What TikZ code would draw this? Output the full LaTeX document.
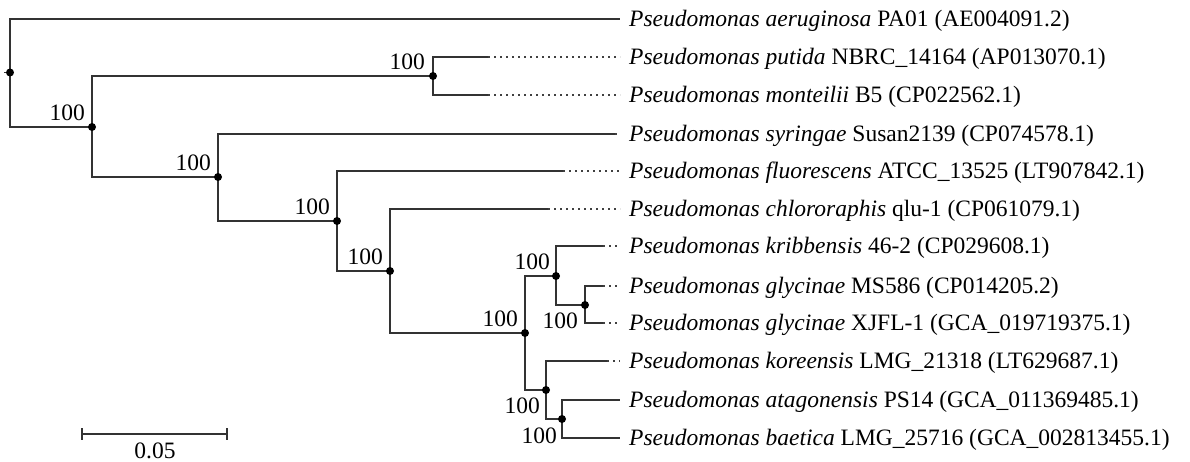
\documentclass[tikz,border=0pt]{standalone}
\usepackage{fontspec}
\setmainfont{Liberation Serif}
\begin{document}
\begin{tikzpicture}[x=1pt,y=-1pt,
  br/.style={line width=1.7pt,draw=black!80},
  dotline/.style={line width=1.6pt,draw=black!75,dash pattern=on 1.6pt off 4.4pt},
  nd/.style={circle,fill=black,inner sep=0pt,minimum size=8pt},
  tip/.style={inner sep=0pt,anchor=base west,font=\fontsize{23.5}{26}\selectfont},
  bsa/.style={inner sep=0pt,anchor=south east,font=\fontsize{23.5}{26}\selectfont},
  bsb/.style={inner sep=0pt,anchor=north east,font=\fontsize{23.5}{26}\selectfont},
  sc/.style={inner sep=0pt,anchor=north,font=\fontsize{23.5}{26}\selectfont}]
\useasboundingbox (0,0) rectangle (1190,462);
% internal nodes
\coordinate (r) at (10,72.5);
\coordinate (n1) at (92,127);
\coordinate (n2) at (433,76);
\coordinate (n3) at (218,177);
\coordinate (n4) at (337,221);
\coordinate (n5) at (390,271);
\coordinate (n6) at (525,333);
\coordinate (n7) at (556,276);
\coordinate (n8) at (585,305);
\coordinate (n9) at (546,390);
\coordinate (n10) at (562,419);
\coordinate (rt) at (4,72.5);
% solid ends
\coordinate (s1) at (620,19);
\coordinate (s2) at (488,57);
\coordinate (s3) at (488,95);
\coordinate (s4) at (615,134);
\coordinate (s5) at (563,171);
\coordinate (s6) at (548,209);
\coordinate (s7) at (603,246);
\coordinate (s8) at (603,286);
\coordinate (s9) at (603,323);
\coordinate (s10) at (607,361);
\coordinate (s11) at (620,400);
\coordinate (s12) at (620,438);
% dotted ends
\foreach \i/\y in {2/57,3/95,4/134,5/171,6/209,7/246,8/286,9/323,10/361}
  \coordinate (d\i) at (620,\y);
% leaf labels
\node[tip] (L1) at (629,26.5) {\textit{Pseudomonas aeruginosa} PA01 (AE004091.2)};
\node[tip] (L2) at (629,64.5) {\textit{Pseudomonas putida} NBRC\_14164 (AP013070.1)};
\node[tip] (L3) at (629,102.5) {\textit{Pseudomonas monteilii} B5 (CP022562.1)};
\node[tip] (L4) at (629,141.5) {\textit{Pseudomonas syringae} Susan2139 (CP074578.1)};
\node[tip] (L5) at (629,178.5) {\textit{Pseudomonas fluorescens} ATCC\_13525 (LT907842.1)};
\node[tip] (L6) at (629,216.5) {\textit{Pseudomonas chlororaphis} qlu-1 (CP061079.1)};
\node[tip] (L7) at (629,253.5) {\textit{Pseudomonas kribbensis} 46-2 (CP029608.1)};
\node[tip] (L8) at (629,293.5) {\textit{Pseudomonas glycinae} MS586 (CP014205.2)};
\node[tip] (L9) at (629,330.5) {\textit{Pseudomonas glycinae} XJFL-1 (GCA\_019719375.1)};
\node[tip] (L10) at (629,368.5) {\textit{Pseudomonas koreensis} LMG\_21318 (LT629687.1)};
\node[tip] (L11) at (629,407.5) {\textit{Pseudomonas atagonensis} PS14 (GCA\_011369485.1)};
\node[tip] (L12) at (629,445.5) {\textit{Pseudomonas baetica} LMG\_25716 (GCA\_002813455.1)};
% branches
\draw[br] (rt) -- (r);
\draw[br] (r) |- (s1);
\draw[br] (r) |- (n1);
\draw[br] (n1) |- (n2);
\draw[br] (n1) |- (n3);
\draw[br] (n2) |- (s2);
\draw[br] (n2) |- (s3);
\draw[br] (n3) |- (s4);
\draw[br] (n3) |- (n4);
\draw[br] (n4) |- (s5);
\draw[br] (n4) |- (n5);
\draw[br] (n5) |- (s6);
\draw[br] (n5) |- (n6);
\draw[br] (n6) |- (n7);
\draw[br] (n6) |- (n9);
\draw[br] (n7) |- (s7);
\draw[br] (n7) |- (n8);
\draw[br] (n8) |- (s8);
\draw[br] (n8) |- (s9);
\draw[br] (n9) |- (s10);
\draw[br] (n9) |- (n10);
\draw[br] (n10) |- (s11);
\draw[br] (n10) |- (s12);
% dotted extensions
\foreach \i in {2,...,10} \draw[dotline] (s\i) -- (d\i);
% node dots
\foreach \n in {r,n1,n2,n3,n4,n5,n6,n7,n8,n9,n10} \node[nd] at (\n) {};
% bootstrap labels
\node[bsa] (b1) at ([shift={(-7,-6)}]n1) {100};
\node[bsa] (b2) at ([shift={(-8,-6)}]n2) {100};
\node[bsa] (b3) at ([shift={(-7,-6)}]n3) {100};
\node[bsa] (b4) at ([shift={(-7,-6)}]n4) {100};
\node[bsa] (b5) at ([shift={(-7,-6)}]n5) {100};
\node[bsa] (b6) at ([shift={(-7,-6)}]n6) {100};
\node[bsa] (b7) at ([shift={(-6,-6)}]n7) {100};
\node[bsb] (b8) at ([shift={(-7,8)}]n8) {100};
\node[bsb] (b9) at ([shift={(-6,8)}]n9) {100};
\node[bsb] (b10) at ([shift={(-5,9)}]n10) {100};
% scale bar
\coordinate (sa) at (82,434);
\coordinate (sb) at (227,434);
\draw[br] (sa) -- (sb);
\draw[br] ([yshift=6pt]sa) -- ([yshift=-6pt]sa);
\draw[br] ([yshift=6pt]sb) -- ([yshift=-6pt]sb);
\node[sc] (sl) at (155,443) {0.05};
\end{tikzpicture}
\end{document}
